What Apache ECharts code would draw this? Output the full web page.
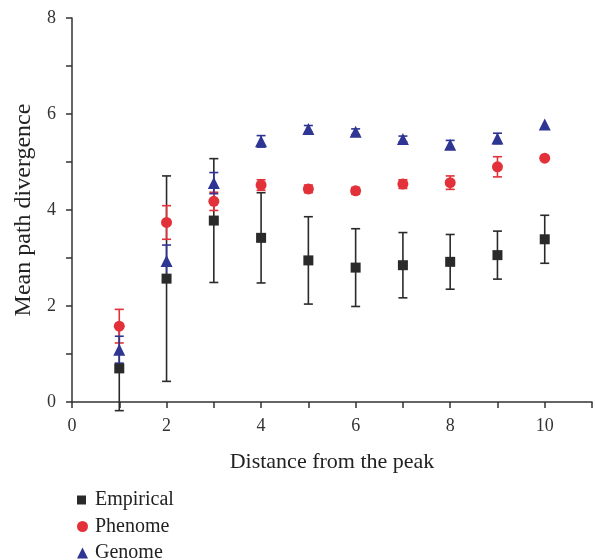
<!DOCTYPE html>
<html>
<head>
<meta charset="utf-8">
<script src="https://cdn.jsdelivr.net/npm/echarts@6/dist/echarts.min.js"></script>
<style>
html,body{margin:0;padding:0;background:#fff;}
#chartmain{width:595px;height:560px;}
</style>
</head>
<body>
<div id="chartmain"></div>
<script>
// distance from the peak
var distance = [1, 2, 3, 4, 5, 6, 7, 8, 9, 10];
// mean values and error half widths
var empirical = [0.70, 2.57, 3.78, 3.42, 2.95, 2.80, 2.85, 2.92, 3.06, 3.39];
var empiricalErr = [0.88, 2.14, 1.29, 0.94, 0.91, 0.81, 0.68, 0.57, 0.50, 0.50];
var phenome = [1.58, 3.74, 4.18, 4.52, 4.44, 4.40, 4.54, 4.57, 4.90, 5.08];
var phenomeErr = [0.35, 0.35, 0.19, 0.11, 0.08, 0.07, 0.09, 0.14, 0.21, 0.0];
var genome = [1.09, 2.94, 4.56, 5.43, 5.69, 5.63, 5.48, 5.36, 5.49, 5.78];
var genomeErr = [0.28, 0.33, 0.22, 0.12, 0.07, 0.06, 0.06, 0.09, 0.11, 0.0];
var seriesNames = ['Empirical', 'Phenome', 'Genome'];
var xTicks = [0, 2, 4, 6, 8, 10];
var yTicks = [0, 2, 4, 6, 8];

var colors = ['#2a2a2a', '#e3313a', '#2e3592'];
var font = 'Liberation Serif';

function points(vals) {
    return distance.map(function (d, i) { return [d, vals[i]]; });
}
function bars(vals, errs) {
    return distance.map(function (d, i) { return [d, vals[i] - errs[i], vals[i] + errs[i]]; });
}

function errorSeries(vals, errs, color) {
    return {
        type: 'custom',
        silent: true,
        data: bars(vals, errs),
        z: 2,
        renderItem: function (params, api) {
            if (api.value(2) - api.value(1) <= 0) return null;
            var lo = api.coord([api.value(0), api.value(1)]);
            var hi = api.coord([api.value(0), api.value(2)]);
            var w = 4.5;
            var style = { stroke: color, lineWidth: 1.6 };
            return {
                type: 'group',
                children: [
                    { type: 'line', shape: { x1: lo[0], y1: lo[1], x2: hi[0], y2: hi[1] }, style: style },
                    { type: 'line', shape: { x1: lo[0] - w, y1: lo[1], x2: lo[0] + w, y2: lo[1] }, style: style },
                    { type: 'line', shape: { x1: hi[0] - w, y1: hi[1], x2: hi[0] + w, y2: hi[1] }, style: style }
                ]
            };
        }
    };
}

// one legend per row so nothing wraps at the bottom edge
var icons = ['rect', 'circle', 'triangle'];
var legends = seriesNames.map(function (n, i) {
    return {
        left: 72,
        top: 485 + i * 26.5,
        itemWidth: i == 0 ? 9 : 11,
        itemHeight: i == 0 ? 9 : 11,
        textStyle: { fontFamily: font, fontSize: 20, color: '#222', padding: [0, 0, 0, i == 0 ? 4 : 2] },
        data: [{ name: n, icon: icons[i] }]
    };
});

var axisLine = { show: true, onZero: false, lineStyle: { color: '#333', width: 1.5 } };

var option = {
    animation: false,
    color: colors,
    grid: { left: 72, right: 0, top: 18, bottom: 158 },
    legend: legends,
    xAxis: {
        type: 'value',
        min: 0,
        max: 11,
        interval: 1,
        name: 'Distance from the peak',
        nameLocation: 'middle',
        nameGap: 49,
        nameTextStyle: { fontFamily: font, fontSize: 22, color: '#222' },
        axisLine: axisLine,
        axisTick: { show: true, length: 6, lineStyle: { color: '#333', width: 1.5 } },
        axisLabel: {
            fontFamily: font, fontSize: 18, color: '#333', margin: 15,
            formatter: function (v) { return xTicks.indexOf(v) >= 0 ? String(v) : ''; }
        },
        splitLine: { show: false }
    },
    yAxis: {
        type: 'value',
        min: 0,
        max: 8,
        interval: 1,
        name: 'Mean path divergence',
        nameLocation: 'middle',
        nameGap: 34,
        nameTextStyle: { fontFamily: font, fontSize: 24, color: '#222' },
        axisLine: axisLine,
        axisTick: { show: true, length: 6, lineStyle: { color: '#333', width: 1.5 } },
        axisLabel: {
            fontFamily: font, fontSize: 18, color: '#333', margin: 16,
            formatter: function (v) { return yTicks.indexOf(v) >= 0 ? String(v) : ''; }
        },
        splitLine: { show: false }
    },
    series: [
        errorSeries(empirical, empiricalErr, colors[0]),
        { name: 'Empirical', type: 'scatter', symbol: 'rect', symbolSize: 10, z: 3,
          itemStyle: { color: colors[0], opacity: 1 }, data: points(empirical) },
        errorSeries(phenome, phenomeErr, colors[1]),
        { name: 'Phenome', type: 'scatter', symbol: 'circle', symbolSize: 11, z: 3,
          itemStyle: { color: colors[1], opacity: 1 }, data: points(phenome) },
        errorSeries(genome, genomeErr, colors[2]),
        { name: 'Genome', type: 'scatter', symbol: 'triangle', symbolSize: 12, z: 3,
          itemStyle: { color: colors[2], opacity: 1 }, data: points(genome) }
    ]
};

var myChart = echarts.init(document.getElementById('chartmain'));
myChart.setOption(option);
</script>
</body>
</html>
